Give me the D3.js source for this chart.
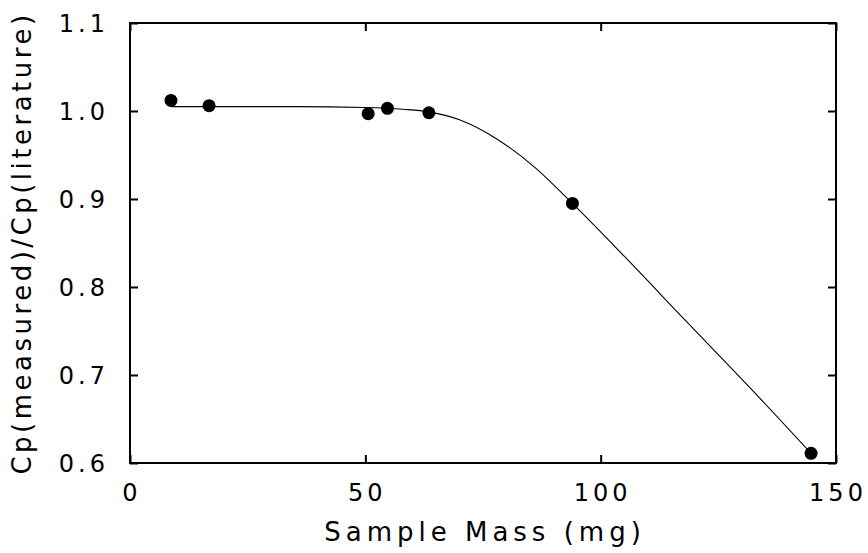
<!DOCTYPE html>
<html>
<head>
<meta charset="utf-8">
<script src="https://cdn.jsdelivr.net/npm/d3@7"></script>
<style>
  body { margin: 0; background: #fff; }
  svg text { font-family: "DejaVu Sans", "Liberation Sans", sans-serif; fill: #000; }
</style>
</head>
<body>
<svg id="chart" width="868" height="553"></svg>
<script>
// Measured points: sample mass (mg) vs. heat-capacity ratio
const massValues = [8.7, 16.8, 50.6, 54.7, 63.5, 94.0, 144.7];
const ratioValues = [1.012, 1.006, 0.997, 1.003, 0.998, 0.895, 0.611];

// Smooth fitted trend through the data
const fitMass  = [8.7, 20, 35, 50, 58, 63.5, 70, 78, 86, 94, 105, 118, 132, 144.7];
const fitRatio = [1.005, 1.005, 1.005, 1.004, 1.002, 0.999, 0.990, 0.968, 0.936, 0.895, 0.835, 0.762, 0.684, 0.611];

const xTicks = [0, 50, 100, 150];
const yTicks = [0.6, 0.7, 0.8, 0.9, 1.0, 1.1];

const svg = d3.select("#chart");
const plotLeft = 130, plotRight = 836, plotTop = 23, plotBottom = 463;

const x = d3.scaleLinear().domain([0, 150]).range([plotLeft, plotRight]);
const y = d3.scaleLinear().domain([0.6, 1.1]).range([plotBottom, plotTop]);

// Fitted curve
const line = d3.line()
  .x((d, i) => x(fitMass[i]))
  .y((d, i) => y(fitRatio[i]))
  .curve(d3.curveMonotoneX);
svg.append("path")
  .datum(fitMass)
  .attr("d", line)
  .attr("fill", "none")
  .attr("stroke", "#000")
  .attr("stroke-width", 1.1);

// Data points
svg.selectAll("circle.pt")
  .data(massValues)
  .enter().append("circle")
  .attr("class", "pt")
  .attr("cx", d => x(d))
  .attr("cy", (d, i) => y(ratioValues[i]))
  .attr("r", 6.5)
  .attr("fill", "#000");

// Inward ticks on all four sides
const tickLen = 8;
const axes = [
  d3.axisBottom(x).tickValues(xTicks).tickSizeInner(-tickLen).tickSizeOuter(0).tickFormat(""),
  d3.axisTop(x).tickValues(xTicks).tickSizeInner(-tickLen).tickSizeOuter(0).tickFormat(""),
  d3.axisLeft(y).tickValues(yTicks).tickSizeInner(-tickLen).tickSizeOuter(0).tickFormat(""),
  d3.axisRight(y).tickValues(yTicks).tickSizeInner(-tickLen).tickSizeOuter(0).tickFormat("")
];
const offsets = [[0, plotBottom], [0, plotTop], [plotLeft, 0], [plotRight, 0]];
axes.forEach((ax, i) => {
  const g = svg.append("g").attr("transform", `translate(${offsets[i][0]},${offsets[i][1]})`).call(ax);
  g.select(".domain").remove();
  g.selectAll("line").attr("stroke", "#000").attr("stroke-width", 2);
});

// Frame
svg.append("rect")
  .attr("x", plotLeft).attr("y", plotTop)
  .attr("width", plotRight - plotLeft).attr("height", plotBottom - plotTop)
  .attr("fill", "none").attr("stroke", "#000").attr("stroke-width", 2);

// Tick labels
svg.selectAll("text.xl")
  .data(xTicks)
  .enter().append("text")
  .attr("class", "xl")
  .attr("x", d => x(d) + 2)
  .attr("y", 501)
  .attr("text-anchor", "middle")
  .attr("font-size", 24)
  .attr("letter-spacing", 4)
  .text(d => d);

svg.selectAll("text.yl")
  .data(yTicks)
  .enter().append("text")
  .attr("class", "yl")
  .attr("x", 109)
  .attr("y", d => y(d) + 9)
  .attr("text-anchor", "end")
  .attr("font-size", 24)
  .attr("letter-spacing", 4)
  .text(d => d3.format(".1f")(d));

// Axis titles
svg.append("text")
  .attr("x", (plotLeft + plotRight) / 2 + 2)
  .attr("y", 541)
  .attr("text-anchor", "middle")
  .attr("font-size", 26)
  .attr("letter-spacing", 5)
  .text("Sample Mass (mg)");

svg.append("text")
  .attr("transform", `translate(31,${(plotTop + plotBottom) / 2}) rotate(-90)`)
  .attr("text-anchor", "middle")
  .attr("font-size", 26)
  .attr("letter-spacing", 3.5)
  .text("Cp(measured)/Cp(literature)");
</script>
</body>
</html>
